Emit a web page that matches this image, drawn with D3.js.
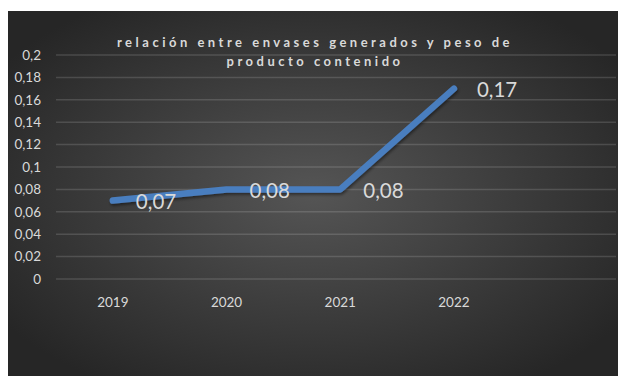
<!DOCTYPE html>
<html>
<head>
<meta charset="utf-8">
<script src="https://cdn.jsdelivr.net/npm/d3@7"></script>
<style>
  html, body { margin: 0; padding: 0; background: #fff; }
  svg { display: block; }
</style>
</head>
<body>
<div id="chart"></div>
<script>
var years = ['2019', '2020', '2021', '2022']
var values = [0.07, 0.08, 0.08, 0.17]
var yTicks = [0, 0.02, 0.04, 0.06, 0.08, 0.1, 0.12, 0.14, 0.16, 0.18, 0.2]
var titleLines = ['relación entre envases generados y peso de', 'producto contenido']

var W = 618, H = 376
var svg = d3.select('#chart').append('svg')
  .attr('width', W)
  .attr('height', H)

// comma decimals like the original sheet
var fmt = d => String(+d.toFixed(2)).replace('.', ',')

var defs = svg.append('defs')
var grad = defs.append('radialGradient')
  .attr('id', 'bg')
  .attr('cx', '50%').attr('cy', '50%').attr('r', '62%')
grad.append('stop').attr('offset', '0%').attr('stop-color', '#555555')
grad.append('stop').attr('offset', '100%').attr('stop-color', '#262626')

var shadow = defs.append('filter').attr('id', 'shadow')
  .attr('x', '-10%').attr('y', '-10%').attr('width', '120%').attr('height', '130%')
shadow.append('feDropShadow')
  .attr('dx', 1).attr('dy', 2).attr('stdDeviation', 1.5)
  .attr('flood-color', '#000').attr('flood-opacity', 0.45)

// chart area
svg.append('rect')
  .attr('x', 8).attr('y', 11)
  .attr('width', W - 8).attr('height', H - 11)
  .attr('fill', 'url(#bg)')

var plotLeft = 56, plotRight = 616
var step = 113.7

var x = d3.scaleBand()
  .domain(years)
  .range([plotLeft, plotLeft + step * years.length])

var y = d3.scaleLinear()
  .domain([0, 0.2])
  .range([279, 55])

// gridlines
svg.append('g')
  .selectAll('line')
  .data(yTicks)
  .join('line')
  .attr('x1', plotLeft)
  .attr('x2', plotRight)
  .attr('y1', d => y(d))
  .attr('y2', d => y(d))
  .attr('stroke', '#ffffff')
  .attr('stroke-opacity', 0.14)
  .attr('stroke-width', 1.5)

// y labels
svg.append('g')
  .selectAll('text')
  .data(yTicks)
  .join('text')
  .attr('x', 41)
  .attr('y', d => y(d))
  .attr('dy', '0.35em')
  .attr('text-anchor', 'end')
  .attr('font-family', 'Lato, sans-serif')
  .attr('font-size', 13.5)
  .attr('fill', '#d9d9d9')
  .text(fmt)

// x labels
svg.append('g')
  .selectAll('text')
  .data(years)
  .join('text')
  .attr('x', d => x(d) + x.bandwidth() / 2)
  .attr('y', 307)
  .attr('text-anchor', 'middle')
  .attr('font-family', 'Lato, sans-serif')
  .attr('font-size', 13.5)
  .attr('fill', '#d9d9d9')
  .text(d => d)

// title
svg.append('g')
  .selectAll('text')
  .data(titleLines)
  .join('text')
  .attr('x', 315)
  .attr('y', (d, i) => 47 + i * 19)
  .attr('text-anchor', 'middle')
  .attr('font-family', 'Lato, sans-serif')
  .attr('font-weight', 'bold')
  .attr('font-size', 13)
  .attr('letter-spacing', 3.5)
  .attr('fill', '#d9d9d9')
  .text(d => d)

var pts = years.map((yr, i) => ({ year: yr, value: values[i] }))

var line = d3.line()
  .x(d => x(d.year) + x.bandwidth() / 2)
  .y(d => y(d.value))

svg.append('path')
  .attr('d', line(pts))
  .attr('fill', 'none')
  .attr('stroke', '#4a7ebf')
  .attr('stroke-width', 6.5)
  .attr('stroke-linecap', 'round')
  .attr('stroke-linejoin', 'round')
  .attr('filter', 'url(#shadow)')

// data labels, to the right of each point
svg.append('g')
  .selectAll('text')
  .data(pts)
  .join('text')
  .attr('x', d => x(d.year) + x.bandwidth() / 2 + 23)
  .attr('y', d => y(d.value) + 1)
  .attr('dy', '0.35em')
  .attr('font-family', 'Lato, sans-serif')
  .attr('font-size', 20.5)
  .attr('fill', '#d9d9d9')
  .text(d => fmt(d.value))
</script>
</body>
</html>
